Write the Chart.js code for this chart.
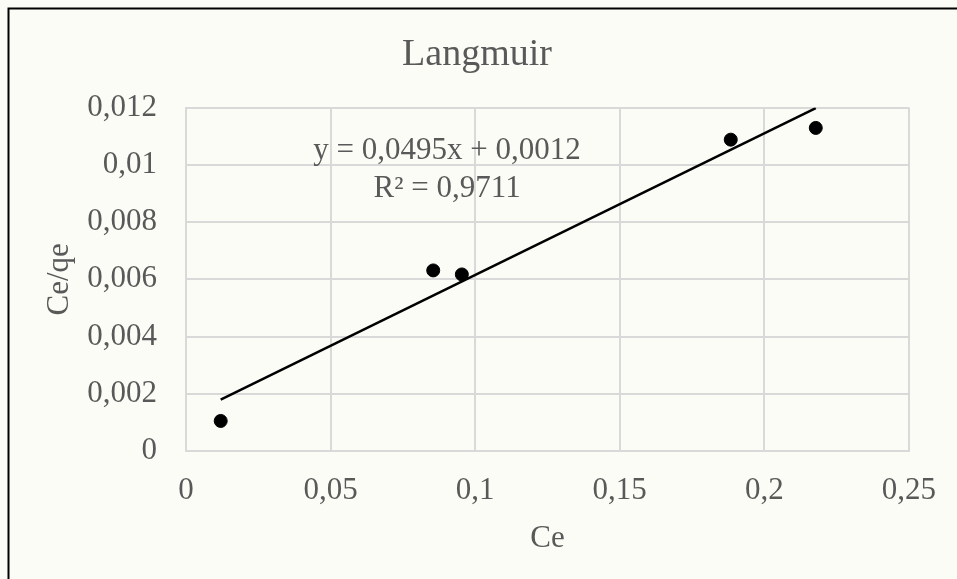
<html>
<head>
<meta charset="utf8">
<title>Langmuir</title>
<style>
  html, body { margin:0; padding:0; background:#fcfcf7; overflow:hidden; }
  .box { position:relative; width:957px; height:579px; }
</style>
</head>
<body>
<div class="box">
  <canvas id="LangmuirChart" width="957" height="579"></canvas>
</div>
<script src="https://cdn.jsdelivr.net/npm/chart.js@4/dist/chart.umd.min.js"></script>
<script>
// Ce and Ce/qe measurements
var ce = [0.012, 0.0855, 0.0954, 0.1884, 0.2178];
var ceqe = [0.00105, 0.00631, 0.00617, 0.01088, 0.01129];

// linear fit shown in the label
var slope = 0.0495;
var intercept = 0.0012;
var r2 = 0.9711;

var xTicks = [0, 0.05, 0.1, 0.15, 0.2, 0.25];
var xTickLabels = ['0', '0,05', '0,1', '0,15', '0,2', '0,25'];
var yTicks = [0, 0.002, 0.004, 0.006, 0.008, 0.01, 0.012];
var yTickLabels = ['0', '0,002', '0,004', '0,006', '0,008', '0,01', '0,012'];

var fnt = 'Liberation Serif';
var grey = '#595959';
var gridCol = '#d9d9d9';

function fmt(v) { return String(v).replace('.', ','); }

// trend line between the smallest and largest Ce
var xMin = Math.min.apply(null, ce), xMax = Math.max.apply(null, ce);
var trend = [
    {x: xMin, y: slope * xMin + intercept},
    {x: xMax, y: slope * xMax + intercept}
];

var points = ce.map(function(v, i){ return {x: v, y: ceqe[i]}; });

// outer frame of the chart object
var framePlugin = {
    id: 'frame',
    beforeDraw: function(chart){
        var c = chart.ctx;
        c.save();
        c.strokeStyle = '#000';
        c.lineWidth = 2;
        c.strokeRect(8.5, 8.5, 1200, 1200);
        c.restore();
    }
};

// equation + R² text
var eqPlugin = {
    id: 'eqLabel',
    afterDatasetsDraw: function(chart, args, opts){
        var c = chart.ctx;
        var px = chart.scales.x.getPixelForValue(opts.x);
        var py = chart.scales.y.getPixelForValue(opts.y);
        c.save();
        c.font = '31px "' + fnt + '"';
        c.fillStyle = grey;
        c.textAlign = 'center';
        c.textBaseline = 'middle';
        c.fillText('y = ' + fmt(slope) + 'x + ' + fmt(intercept), px, py);
        c.fillText('R\u00b2 = ' + fmt(r2), px, py + 38);
        c.restore();
    }
};

new Chart(document.getElementById('LangmuirChart'), {
    type: 'scatter',
    data: {
        datasets: [{
            type: 'line',
            data: trend,
            borderColor: '#000',
            borderWidth: 2.5,
            pointRadius: 0,
            fill: false
        }, {
            data: points,
            backgroundColor: '#000',
            borderColor: '#000',
            pointRadius: 6.5,
            pointHoverRadius: 6.5
        }]
    },
    options: {
        responsive: false,
        animation: false,
        events: [],
        layout: { padding: { left: 41, right: 44, top: 0, bottom: 22 } },
        plugins: {
            legend: { display: false },
            tooltip: { enabled: false },
            title: {
                display: true,
                text: 'Langmuir',
                color: grey,
                font: { family: fnt, size: 38, weight: 'normal' },
                padding: { top: 32, bottom: 30 }
            },
            eqLabel: { x: 0.0903, y: 0.01048 }
        },
        scales: {
            x: {
                type: 'linear',
                min: 0, max: 0.25,
                afterBuildTicks: function(s){ s.ticks = xTicks.map(function(v){ return {value: v}; }); },
                afterFit: function(s){ s.height = 106; },
                ticks: {
                    color: grey,
                    font: { family: fnt, size: 31 },
                    padding: 21,
                    maxRotation: 0,
                    callback: function(v){ return xTickLabels[xTicks.indexOf(v)]; }
                },
                grid: { color: gridCol, lineWidth: 2, drawTicks: false },
                border: { color: gridCol, width: 2 },
                title: {
                    display: true, text: 'Ce', color: grey,
                    font: { family: fnt, size: 31 }, padding: 0
                }
            },
            y: {
                type: 'linear',
                min: 0, max: 0.012,
                afterBuildTicks: function(s){ s.ticks = yTicks.map(function(v){ return {value: v}; }); },
                afterFit: function(s){ s.width = 145; },
                ticks: {
                    color: grey,
                    font: { family: fnt, size: 31 },
                    padding: 29,
                    callback: function(v){ return yTickLabels[yTicks.indexOf(v)]; }
                },
                grid: { color: gridCol, lineWidth: 2, drawTicks: false },
                border: { color: gridCol, width: 2 },
                title: {
                    display: true, text: 'Ce/qe', color: grey,
                    font: { family: fnt, size: 31 }, padding: 0
                }
            }
        }
    },
    plugins: [framePlugin, eqPlugin]
});
</script>
</body>
</html>
